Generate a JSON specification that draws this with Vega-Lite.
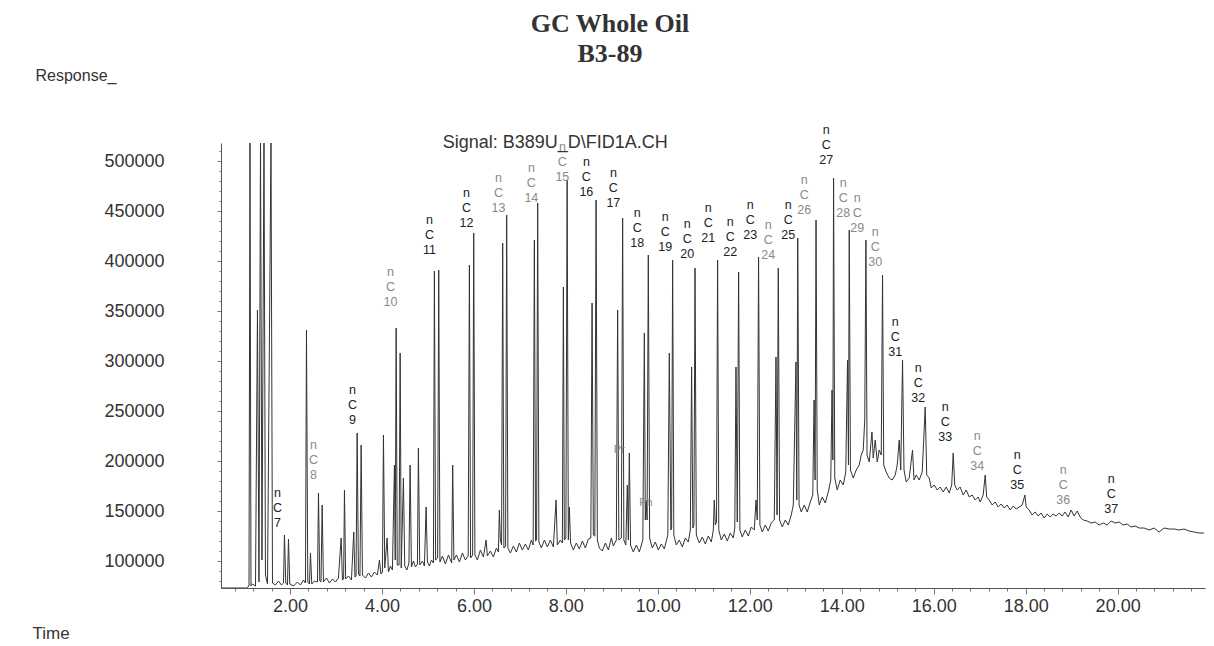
{
"$schema": "https://vega.github.io/schema/vega-lite/v6.json",
"width": 984, "height": 445,
"autosize": "none",
"padding": {"left": 221, "top": 143, "right": 9, "bottom": 58},
"background": "white",
"config": {"view": {"stroke": null}, "font": "Liberation Sans"},
"title": {"text": ["GC Whole Oil", "B3-89"], "font": "Liberation Serif", "fontSize": 26, "fontWeight": "bold", "color": "#333", "lineHeight": 30, "anchor": "middle", "frame": "group", "dx": -103, "offset": 0},
"datasets": {
"trace": [
{"t":0.511,"r":73000},{"t":1.054,"r":73000},{"t":1.109,"r":75000},{"t":1.130,"r":520000},{"t":1.152,"r":75000},{"t":1.185,"r":77000},{"t":1.250,"r":75000},{"t":1.293,"r":351000},{"t":1.326,"r":79000},{"t":1.359,"r":520000},{"t":1.391,"r":101000},{"t":1.435,"r":520000},{"t":1.467,"r":86000},{"t":1.511,"r":77000},{"t":1.587,"r":520000},{"t":1.620,"r":78000},{"t":1.685,"r":76000},{"t":1.750,"r":80000},{"t":1.815,"r":76000},{"t":1.859,"r":78000},{"t":1.880,"r":126000},{"t":1.909,"r":78000},{"t":1.946,"r":76000},{"t":1.967,"r":122000},{"t":1.996,"r":77000},{"t":2.076,"r":75000},{"t":2.163,"r":79000},{"t":2.228,"r":76000},{"t":2.293,"r":81000},{"t":2.337,"r":78000},{"t":2.359,"r":331000},{"t":2.387,"r":79000},{"t":2.424,"r":77000},{"t":2.446,"r":108000},{"t":2.474,"r":77000},{"t":2.533,"r":80000},{"t":2.598,"r":79000},{"t":2.620,"r":168000},{"t":2.648,"r":80000},{"t":2.674,"r":79000},{"t":2.700,"r":156000},{"t":2.728,"r":79000},{"t":2.793,"r":83000},{"t":2.859,"r":78000},{"t":2.924,"r":82000},{"t":2.989,"r":79000},{"t":3.054,"r":83000},{"t":3.113,"r":123000},{"t":3.141,"r":81000},{"t":3.167,"r":82000},{"t":3.185,"r":171000},{"t":3.211,"r":82000},{"t":3.272,"r":85000},{"t":3.337,"r":81000},{"t":3.387,"r":129000},{"t":3.413,"r":84000},{"t":3.437,"r":85000},{"t":3.461,"r":228000},{"t":3.489,"r":87000},{"t":3.522,"r":85000},{"t":3.548,"r":216000},{"t":3.576,"r":86000},{"t":3.641,"r":83000},{"t":3.707,"r":88000},{"t":3.772,"r":84000},{"t":3.837,"r":89000},{"t":3.902,"r":86000},{"t":3.946,"r":101000},{"t":3.978,"r":87000},{"t":4.011,"r":89000},{"t":4.033,"r":226000},{"t":4.061,"r":93000},{"t":4.113,"r":123000},{"t":4.141,"r":89000},{"t":4.185,"r":95000},{"t":4.228,"r":91000},{"t":4.272,"r":196000},{"t":4.289,"r":101000},{"t":4.309,"r":333000},{"t":4.333,"r":96000},{"t":4.372,"r":96000},{"t":4.396,"r":308000},{"t":4.420,"r":93000},{"t":4.467,"r":183000},{"t":4.496,"r":95000},{"t":4.543,"r":91000},{"t":4.587,"r":98000},{"t":4.613,"r":196000},{"t":4.641,"r":94000},{"t":4.685,"r":100000},{"t":4.728,"r":94000},{"t":4.772,"r":97000},{"t":4.793,"r":213000},{"t":4.822,"r":96000},{"t":4.880,"r":100000},{"t":4.924,"r":95000},{"t":4.961,"r":154000},{"t":4.989,"r":99000},{"t":5.033,"r":95000},{"t":5.076,"r":101000},{"t":5.120,"r":98000},{"t":5.141,"r":390000},{"t":5.167,"r":101000},{"t":5.211,"r":103000},{"t":5.235,"r":391000},{"t":5.261,"r":99000},{"t":5.315,"r":105000},{"t":5.380,"r":97000},{"t":5.446,"r":106000},{"t":5.517,"r":98000},{"t":5.539,"r":196000},{"t":5.565,"r":101000},{"t":5.620,"r":106000},{"t":5.685,"r":99000},{"t":5.750,"r":108000},{"t":5.815,"r":101000},{"t":5.876,"r":105000},{"t":5.902,"r":396000},{"t":5.928,"r":103000},{"t":5.972,"r":106000},{"t":5.996,"r":428000},{"t":6.022,"r":106000},{"t":6.076,"r":101000},{"t":6.141,"r":111000},{"t":6.207,"r":104000},{"t":6.265,"r":121000},{"t":6.293,"r":105000},{"t":6.359,"r":110000},{"t":6.424,"r":104000},{"t":6.489,"r":113000},{"t":6.533,"r":109000},{"t":6.554,"r":151000},{"t":6.576,"r":121000},{"t":6.602,"r":116000},{"t":6.626,"r":418000},{"t":6.652,"r":113000},{"t":6.689,"r":115000},{"t":6.713,"r":446000},{"t":6.739,"r":113000},{"t":6.793,"r":108000},{"t":6.859,"r":115000},{"t":6.924,"r":109000},{"t":6.989,"r":118000},{"t":7.054,"r":111000},{"t":7.120,"r":117000},{"t":7.185,"r":111000},{"t":7.250,"r":121000},{"t":7.289,"r":116000},{"t":7.315,"r":421000},{"t":7.341,"r":120000},{"t":7.363,"r":121000},{"t":7.387,"r":458000},{"t":7.413,"r":119000},{"t":7.467,"r":113000},{"t":7.533,"r":121000},{"t":7.598,"r":114000},{"t":7.663,"r":121000},{"t":7.728,"r":114000},{"t":7.787,"r":161000},{"t":7.815,"r":116000},{"t":7.880,"r":121000},{"t":7.924,"r":118000},{"t":7.946,"r":374000},{"t":7.967,"r":121000},{"t":8.000,"r":123000},{"t":8.028,"r":481000},{"t":8.054,"r":121000},{"t":8.076,"r":154000},{"t":8.102,"r":118000},{"t":8.163,"r":111000},{"t":8.228,"r":118000},{"t":8.293,"r":112000},{"t":8.359,"r":120000},{"t":8.424,"r":113000},{"t":8.489,"r":122000},{"t":8.543,"r":123000},{"t":8.570,"r":358000},{"t":8.598,"r":126000},{"t":8.630,"r":125000},{"t":8.657,"r":461000},{"t":8.685,"r":121000},{"t":8.728,"r":113000},{"t":8.793,"r":110000},{"t":8.859,"r":118000},{"t":8.924,"r":111000},{"t":8.989,"r":123000},{"t":9.033,"r":115000},{"t":9.098,"r":121000},{"t":9.126,"r":351000},{"t":9.152,"r":121000},{"t":9.207,"r":123000},{"t":9.235,"r":443000},{"t":9.261,"r":121000},{"t":9.304,"r":116000},{"t":9.337,"r":176000},{"t":9.359,"r":121000},{"t":9.380,"r":208000},{"t":9.407,"r":116000},{"t":9.467,"r":109000},{"t":9.533,"r":116000},{"t":9.598,"r":109000},{"t":9.674,"r":121000},{"t":9.707,"r":328000},{"t":9.728,"r":141000},{"t":9.746,"r":161000},{"t":9.767,"r":141000},{"t":9.793,"r":406000},{"t":9.822,"r":123000},{"t":9.880,"r":113000},{"t":9.946,"r":119000},{"t":10.011,"r":111000},{"t":10.076,"r":117000},{"t":10.141,"r":112000},{"t":10.217,"r":126000},{"t":10.250,"r":308000},{"t":10.283,"r":131000},{"t":10.300,"r":133000},{"t":10.322,"r":401000},{"t":10.348,"r":126000},{"t":10.402,"r":116000},{"t":10.467,"r":121000},{"t":10.533,"r":114000},{"t":10.598,"r":123000},{"t":10.663,"r":119000},{"t":10.707,"r":131000},{"t":10.735,"r":294000},{"t":10.761,"r":133000},{"t":10.785,"r":136000},{"t":10.809,"r":393000},{"t":10.837,"r":126000},{"t":10.902,"r":118000},{"t":10.967,"r":124000},{"t":11.033,"r":117000},{"t":11.098,"r":125000},{"t":11.163,"r":119000},{"t":11.207,"r":131000},{"t":11.228,"r":161000},{"t":11.250,"r":136000},{"t":11.276,"r":139000},{"t":11.300,"r":401000},{"t":11.326,"r":131000},{"t":11.380,"r":121000},{"t":11.446,"r":127000},{"t":11.511,"r":120000},{"t":11.576,"r":128000},{"t":11.641,"r":123000},{"t":11.674,"r":133000},{"t":11.700,"r":294000},{"t":11.728,"r":139000},{"t":11.757,"r":389000},{"t":11.785,"r":131000},{"t":11.837,"r":124000},{"t":11.902,"r":131000},{"t":11.967,"r":125000},{"t":12.033,"r":134000},{"t":12.098,"r":131000},{"t":12.135,"r":161000},{"t":12.163,"r":141000},{"t":12.191,"r":404000},{"t":12.220,"r":136000},{"t":12.272,"r":129000},{"t":12.337,"r":136000},{"t":12.402,"r":130000},{"t":12.467,"r":138000},{"t":12.533,"r":141000},{"t":12.570,"r":304000},{"t":12.593,"r":146000},{"t":12.620,"r":393000},{"t":12.648,"r":141000},{"t":12.707,"r":134000},{"t":12.772,"r":141000},{"t":12.837,"r":136000},{"t":12.902,"r":146000},{"t":12.946,"r":156000},{"t":13.004,"r":299000},{"t":13.022,"r":161000},{"t":13.043,"r":423000},{"t":13.072,"r":156000},{"t":13.120,"r":149000},{"t":13.185,"r":156000},{"t":13.250,"r":149000},{"t":13.315,"r":159000},{"t":13.370,"r":166000},{"t":13.398,"r":261000},{"t":13.420,"r":181000},{"t":13.441,"r":441000},{"t":13.467,"r":171000},{"t":13.511,"r":156000},{"t":13.576,"r":164000},{"t":13.641,"r":158000},{"t":13.707,"r":169000},{"t":13.761,"r":181000},{"t":13.789,"r":271000},{"t":13.807,"r":201000},{"t":13.822,"r":483000},{"t":13.848,"r":183000},{"t":13.902,"r":171000},{"t":13.967,"r":181000},{"t":14.033,"r":176000},{"t":14.087,"r":189000},{"t":14.126,"r":301000},{"t":14.146,"r":196000},{"t":14.163,"r":431000},{"t":14.189,"r":191000},{"t":14.250,"r":183000},{"t":14.315,"r":191000},{"t":14.380,"r":196000},{"t":14.424,"r":206000},{"t":14.467,"r":211000},{"t":14.500,"r":241000},{"t":14.526,"r":421000},{"t":14.550,"r":206000},{"t":14.598,"r":199000},{"t":14.657,"r":229000},{"t":14.685,"r":203000},{"t":14.728,"r":221000},{"t":14.772,"r":199000},{"t":14.815,"r":211000},{"t":14.859,"r":206000},{"t":14.887,"r":386000},{"t":14.913,"r":196000},{"t":14.967,"r":189000},{"t":15.033,"r":183000},{"t":15.098,"r":181000},{"t":15.163,"r":186000},{"t":15.207,"r":196000},{"t":15.250,"r":221000},{"t":15.283,"r":191000},{"t":15.322,"r":301000},{"t":15.354,"r":191000},{"t":15.402,"r":179000},{"t":15.467,"r":183000},{"t":15.539,"r":211000},{"t":15.572,"r":181000},{"t":15.620,"r":186000},{"t":15.685,"r":181000},{"t":15.750,"r":189000},{"t":15.815,"r":254000},{"t":15.848,"r":186000},{"t":15.902,"r":183000},{"t":15.946,"r":173000},{"t":16.011,"r":176000},{"t":16.076,"r":171000},{"t":16.141,"r":174000},{"t":16.207,"r":169000},{"t":16.272,"r":174000},{"t":16.337,"r":168000},{"t":16.391,"r":176000},{"t":16.424,"r":208000},{"t":16.457,"r":176000},{"t":16.511,"r":171000},{"t":16.576,"r":174000},{"t":16.641,"r":166000},{"t":16.707,"r":171000},{"t":16.772,"r":164000},{"t":16.837,"r":166000},{"t":16.902,"r":161000},{"t":16.967,"r":164000},{"t":17.011,"r":159000},{"t":17.076,"r":166000},{"t":17.120,"r":186000},{"t":17.152,"r":164000},{"t":17.207,"r":161000},{"t":17.272,"r":156000},{"t":17.337,"r":159000},{"t":17.402,"r":154000},{"t":17.467,"r":157000},{"t":17.533,"r":153000},{"t":17.598,"r":156000},{"t":17.663,"r":151000},{"t":17.728,"r":155000},{"t":17.793,"r":152000},{"t":17.859,"r":154000},{"t":17.924,"r":156000},{"t":17.983,"r":166000},{"t":18.011,"r":154000},{"t":18.076,"r":151000},{"t":18.141,"r":146000},{"t":18.207,"r":149000},{"t":18.272,"r":145000},{"t":18.337,"r":148000},{"t":18.402,"r":143000},{"t":18.467,"r":147000},{"t":18.533,"r":144000},{"t":18.598,"r":147000},{"t":18.663,"r":145000},{"t":18.728,"r":148000},{"t":18.793,"r":145000},{"t":18.859,"r":149000},{"t":18.924,"r":144000},{"t":18.989,"r":151000},{"t":19.054,"r":145000},{"t":19.120,"r":150000},{"t":19.185,"r":144000},{"t":19.250,"r":141000},{"t":19.337,"r":140000},{"t":19.424,"r":138000},{"t":19.511,"r":139000},{"t":19.598,"r":136000},{"t":19.685,"r":138000},{"t":19.772,"r":136000},{"t":19.859,"r":140000},{"t":19.946,"r":138000},{"t":20.033,"r":139000},{"t":20.120,"r":136000},{"t":20.207,"r":137000},{"t":20.293,"r":134000},{"t":20.380,"r":135000},{"t":20.467,"r":133000},{"t":20.576,"r":133000},{"t":20.685,"r":131000},{"t":20.793,"r":133000},{"t":20.902,"r":129000},{"t":21.011,"r":133000},{"t":21.120,"r":132000},{"t":21.228,"r":132000},{"t":21.337,"r":131000},{"t":21.446,"r":132000},{"t":21.554,"r":130000},{"t":21.663,"r":129000},{"t":21.772,"r":128000},{"t":21.880,"r":128000}
],
"peaks": [
{"t":1.728,"r":153000,"label":"n\nC\n7","print":"dark"},
{"t":2.511,"r":201000,"label":"n\nC\n8","print":"light"},
{"t":3.359,"r":256000,"label":"n\nC\n9","print":"dark"},
{"t":4.185,"r":374000,"label":"n\nC\n10","print":"light"},
{"t":5.033,"r":426000,"label":"n\nC\n11","print":"dark"},
{"t":5.837,"r":453000,"label":"n\nC\n12","print":"dark"},
{"t":6.533,"r":468000,"label":"n\nC\n13","print":"light"},
{"t":7.250,"r":478000,"label":"n\nC\n14","print":"light"},
{"t":7.924,"r":499000,"label":"n\nC\n15","print":"light"},
{"t":8.446,"r":484000,"label":"n\nC\n16","print":"dark"},
{"t":9.033,"r":473000,"label":"n\nC\n17","print":"dark"},
{"t":9.554,"r":433000,"label":"n\nC\n18","print":"dark"},
{"t":10.163,"r":429000,"label":"n\nC\n19","print":"dark"},
{"t":10.641,"r":422000,"label":"n\nC\n20","print":"dark"},
{"t":11.098,"r":438000,"label":"n\nC\n21","print":"dark"},
{"t":11.576,"r":424000,"label":"n\nC\n22","print":"dark"},
{"t":12.011,"r":441000,"label":"n\nC\n23","print":"dark"},
{"t":12.402,"r":421000,"label":"n\nC\n24","print":"light"},
{"t":12.837,"r":441000,"label":"n\nC\n25","print":"dark"},
{"t":13.185,"r":466000,"label":"n\nC\n26","print":"light"},
{"t":13.663,"r":516000,"label":"n\nC\n27","print":"dark"},
{"t":14.033,"r":463000,"label":"n\nC\n28","print":"light"},
{"t":14.337,"r":448000,"label":"n\nC\n29","print":"light"},
{"t":14.728,"r":414000,"label":"n\nC\n30","print":"light"},
{"t":15.163,"r":324000,"label":"n\nC\n31","print":"dark"},
{"t":15.663,"r":278000,"label":"n\nC\n32","print":"dark"},
{"t":16.250,"r":239000,"label":"n\nC\n33","print":"dark"},
{"t":16.946,"r":210000,"label":"n\nC\n34","print":"light"},
{"t":17.815,"r":191000,"label":"n\nC\n35","print":"dark"},
{"t":18.815,"r":176000,"label":"n\nC\n36","print":"light"},
{"t":19.859,"r":167000,"label":"n\nC\n37","print":"dark"}
],
"markers": [
{"t":9.163,"r":211000,"label":"Pr"},
{"t":9.743,"r":158000,"label":"Ph"}
],
"signal": [
{"t":7.77,"r":518000,"label":"Signal: B389U_D\\FID1A.CH"}
]
},
"encoding": {
"x": {"field": "t", "type": "quantitative",
  "scale": {"domain": [0.5, 21.9], "nice": false, "zero": false},
  "axis": {
    "values": [0.8,1.2,1.6,2,2.4,2.8,3.2,3.6,4,4.4,4.8,5.2,5.6,6,6.4,6.8,7.2,7.6,8,8.4,8.8,9.2,9.6,10,10.4,10.8,11.2,11.6,12,12.4,12.8,13.2,13.6,14,14.4,14.8,15.2,15.6,16,16.4,16.8,17.2,17.6,18,18.4,18.8,19.2,19.6,20,20.4,20.8,21.2,21.6],
    "labelExpr": "abs(datum.value/2 - round(datum.value/2)) < 0.001 ? format(datum.value, '.2f') : ''",
    "tickSize": {"condition": {"test": "abs(datum.value/2 - round(datum.value/2)) < 0.001", "value": 6}, "value": 3},
    "labelFontSize": 18, "labelColor": "#333", "labelPadding": 3, "labelOverlap": false, "labelFlush": false,
    "domainColor": "#555", "tickColor": "#777", "grid": false,
    "title": "Time", "titleFontSize": 17, "titleFontWeight": "normal", "titleColor": "#333",
    "titleAlign": "left", "titleBaseline": "middle", "titleX": -189, "titleY": 45, "titleAngle": 0
  }},
"y": {"field": "r", "type": "quantitative",
  "scale": {"domain": [73000, 518000], "nice": false, "zero": false},
  "axis": {
    "values": [80000,90000,100000,110000,120000,130000,140000,150000,160000,170000,180000,190000,200000,210000,220000,230000,240000,250000,260000,270000,280000,290000,300000,310000,320000,330000,340000,350000,360000,370000,380000,390000,400000,410000,420000,430000,440000,450000,460000,470000,480000,490000,500000,510000],
    "labelExpr": "datum.value % 50000 == 0 ? format(datum.value, 'd') : ''",
    "tickSize": {"condition": {"test": "datum.value % 50000 == 0", "value": 4}, "value": 2},
    "labelFontSize": 18, "labelColor": "#333", "labelPadding": 53, "labelOverlap": false, "labelFlush": false,
    "domainColor": "#555", "tickColor": "#777", "grid": false,
    "title": "Response_", "titleFontSize": 16, "titleFontWeight": "normal", "titleColor": "#333",
    "titleAlign": "left", "titleBaseline": "middle", "titleX": -186, "titleY": -68, "titleAngle": 0
  }}
},
"layer": [
{"data": {"name": "trace"}, "mark": {"type": "line", "color": "#333", "strokeWidth": 1, "clip": true}},
{"data": {"name": "peaks"}, "mark": {"type": "text", "lineBreak": "\n", "fontSize": 12.5, "lineHeight": 15, "baseline": "middle", "align": "center", "dy": -15},
 "encoding": {"text": {"field": "label"}, "color": {"field": "print", "type": "nominal", "scale": {"domain": ["dark", "light"], "range": ["#222222", "#8a8a8a"]}, "legend": null}}},
{"data": {"name": "markers"}, "mark": {"type": "text", "fontSize": 11, "color": "#8a8a8a", "baseline": "middle", "align": "center"},
 "encoding": {"text": {"field": "label"}}},
{"data": {"name": "signal"}, "mark": {"type": "text", "fontSize": 18, "color": "#333", "baseline": "middle", "align": "center"},
 "encoding": {"text": {"field": "label"}}}
]
}
